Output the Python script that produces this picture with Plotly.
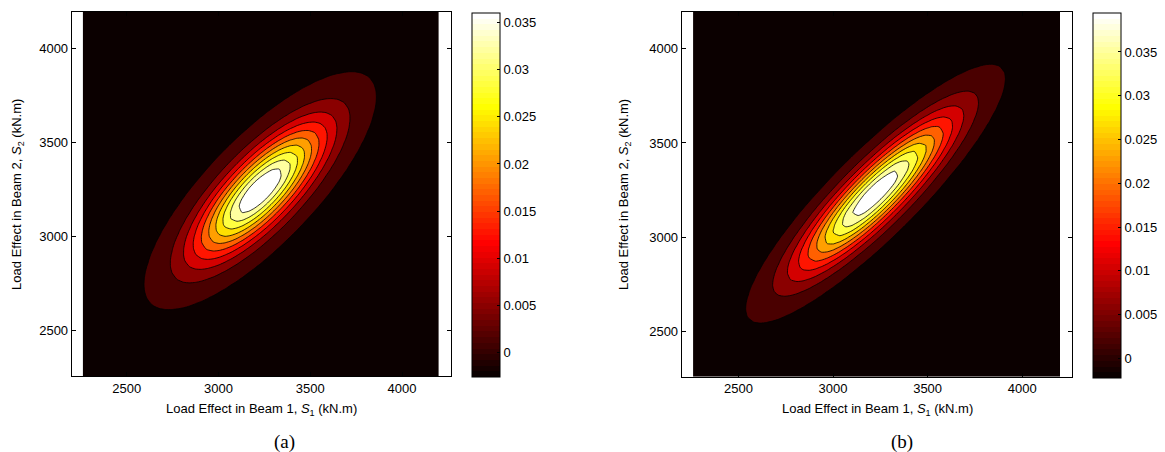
import numpy as np
import plotly.graph_objects as go

# ---------------- data ----------------
x_ticks = [2500, 3000, 3500, 4000]
y_ticks = [2500, 3000, 3500, 4000]
cbar_ticks = [0, 0.005, 0.01, 0.015, 0.02, 0.025, 0.03, 0.035]
cbar_ticktext = ["0", "0.005", "0.01", "0.015", "0.02", "0.025", "0.03", "0.035"]

grid_x_range = [2260, 4200]
grid_y_range = [2260, 4195]
axis_x_range = [2200, 4265]
axis_y_range = [2260, 4195]

# panel (a) joint density parameters
mean_a = [3227, 3245]
sigma_a = [241, 241]
rho_a = 0.79
peak_a = 0.0406
levels_a = [0.0013, 0.00516, 0.00902, 0.01288, 0.01674, 0.0206, 0.02446, 0.02832, 0.03218, 0.03604]
clim_a = [-0.00256, 0.03604]

# panel (b) joint density parameters
mean_b = [3225, 3231]
sigma_b = [274, 274]
rho_b = 0.89
peak_b = 0.0436
levels_b = [0.00189, 0.00606, 0.01023, 0.0144, 0.01857, 0.02274, 0.02691, 0.03108, 0.03525, 0.03942]
clim_b = [-0.00228, 0.03942]

captions = ["(a)", "(b)"]
x_title = "Load Effect in Beam 1, <i>S</i><sub>1</sub> (kN.m)"
y_title = "Load Effect in Beam 2, <i>S</i><sub>2</sub> (kN.m)"

# ---------------- helpers ----------------
W, H = 1165, 452


def hot(m=64):
    n = int(3 * m / 8)
    cols = []
    for i in range(1, m + 1):
        r = min(i / n, 1.0)
        g = min(max((i - n) / n, 0.0), 1.0)
        b = min(max((i - 2 * n) / (m - 2 * n), 0.0), 1.0)
        cols.append((r, g, b))
    return cols


HOT = hot(64)


def rgb(c):
    return "rgb(%d,%d,%d)" % tuple(int(round(v * 255)) for v in c)


def hot_index(v, cmin, cmax):
    i = int(np.floor((v - cmin) / (cmax - cmin) * 64 + 1e-9))
    return max(0, min(63, i))


def region_scale(levels, clim):
    vals = [clim[0]] + list(levels)
    n = len(vals) - 1
    return [[k / n, rgb(HOT[hot_index(v, clim[0], clim[1])])] for k, v in enumerate(vals)]


def bar_scale():
    cs = []
    for i, c in enumerate(HOT):
        cs.append([i / 64, rgb(c)])
        cs.append([(i + 1) / 64, rgb(c)])
    return cs


def density(mean, sigma, rho, peak):
    gx = np.linspace(grid_x_range[0], grid_x_range[1], 61)
    gy = np.linspace(grid_y_range[0], grid_y_range[1], 61)
    X, Y = np.meshgrid(gx, gy)
    u = (X - mean[0]) / sigma[0]
    v = (Y - mean[1]) / sigma[1]
    q = (u * u - 2 * rho * u * v + v * v) / (1 - rho * rho)
    return gx, gy, peak * np.exp(-0.5 * q)


FONT = "Liberation Sans, Arial, sans-serif"

panels = [
    dict(mean=mean_a, sigma=sigma_a, rho=rho_a, peak=peak_a, levels=levels_a, clim=clim_a,
         xdom=[71.7, 450.7], ydom=[12, 376], cb=[471.7, 12.3, 376.7],
         ytitle_x=16.9, cap_x=284),
    dict(mean=mean_b, sigma=sigma_b, rho=rho_b, peak=peak_b, levels=levels_b, clim=clim_b,
         xdom=[681.7, 1072.3], ydom=[12, 376.7], cb=[1093.3, 13.3, 378.3],
         ytitle_x=624.7, cap_x=901.7),
]

fig = go.Figure()
annotations = []
layout = {}

for k, p in enumerate(panels):
    sfx = "" if k == 0 else str(k + 1)
    gx, gy, Z = density(p["mean"], p["sigma"], p["rho"], p["peak"])
    lv = p["levels"]
    fig.add_trace(go.Contour(
        x=gx, y=gy, z=Z,
        xaxis="x" + sfx, yaxis="y" + sfx,
        autocontour=False,
        contours=dict(start=lv[0], end=lv[-1], size=(lv[-1] - lv[0]) / (len(lv) - 1),
                      coloring="fill", showlines=True),
        line=dict(color="black", width=0.8, smoothing=0.6),
        colorscale=region_scale(lv, p["clim"]),
        showscale=False, hoverinfo="skip",
    ))
    cbx, cbt, cbb = p["cb"]
    fig.add_trace(go.Scatter(
        x=[3000], y=[3000], mode="markers",
        xaxis="x" + sfx, yaxis="y" + sfx,
        marker=dict(size=1, opacity=0, color=[p["clim"][0]],
                    colorscale=bar_scale(), cmin=p["clim"][0], cmax=p["clim"][1],
                    showscale=True,
                    colorbar=dict(
                        x=cbx / W, xanchor="left", xpad=0,
                        y=(H - cbb) / H, yanchor="bottom", ypad=0,
                        len=(cbb - cbt) / H, lenmode="fraction",
                        thickness=28, thicknessmode="pixels",
                        outlinewidth=1, outlinecolor="black",
                        tickvals=cbar_ticks, ticktext=cbar_ticktext,
                        ticks="inside", ticklen=3, tickcolor="black",
                        tickfont=dict(family=FONT, size=13, color="black"),
                    )),
        hoverinfo="skip", showlegend=False,
    ))
    x0, x1 = p["xdom"]
    yt, yb = p["ydom"]
    layout["xaxis" + sfx] = dict(
        domain=[x0 / W, x1 / W], range=axis_x_range, anchor="y" + sfx,
        tickvals=x_ticks, ticks="inside", ticklen=4, tickcolor="black",
        showline=True, linecolor="black", linewidth=1, mirror="ticks",
        showgrid=False, zeroline=False,
        tickfont=dict(family=FONT, size=13, color="black"),
    )
    layout["yaxis" + sfx] = dict(
        domain=[(H - yb) / H, (H - yt) / H], range=axis_y_range, anchor="x" + sfx,
        tickvals=y_ticks, ticks="inside", ticklen=4, tickcolor="black",
        showline=True, linecolor="black", linewidth=1, mirror="ticks",
        showgrid=False, zeroline=False,
        tickfont=dict(family=FONT, size=13, color="black"),
    )
    annotations.append(dict(
        text=x_title, x=(x0 + x1) / 2 / W, y=(H - 409) / H, xref="paper", yref="paper",
        xanchor="center", yanchor="middle", showarrow=False,
        font=dict(family=FONT, size=13, color="black")))
    annotations.append(dict(
        text=y_title, x=p["ytitle_x"] / W, y=(H - (yt + yb) / 2) / H, xref="paper", yref="paper",
        xanchor="center", yanchor="middle", showarrow=False, textangle=-90,
        font=dict(family=FONT, size=13, color="black")))
    annotations.append(dict(
        text=captions[k], x=p["cap_x"] / W, y=(H - 441.5) / H, xref="paper", yref="paper",
        xanchor="center", yanchor="middle", showarrow=False,
        font=dict(family="Liberation Serif, Times New Roman, serif", size=19, color="black")))

fig.update_layout(
    width=W, height=H,
    margin=dict(l=0, r=0, t=0, b=0),
    paper_bgcolor="white", plot_bgcolor="white",
    showlegend=False,
    annotations=annotations,
    **layout,
)

fig.write_html("out.html")
